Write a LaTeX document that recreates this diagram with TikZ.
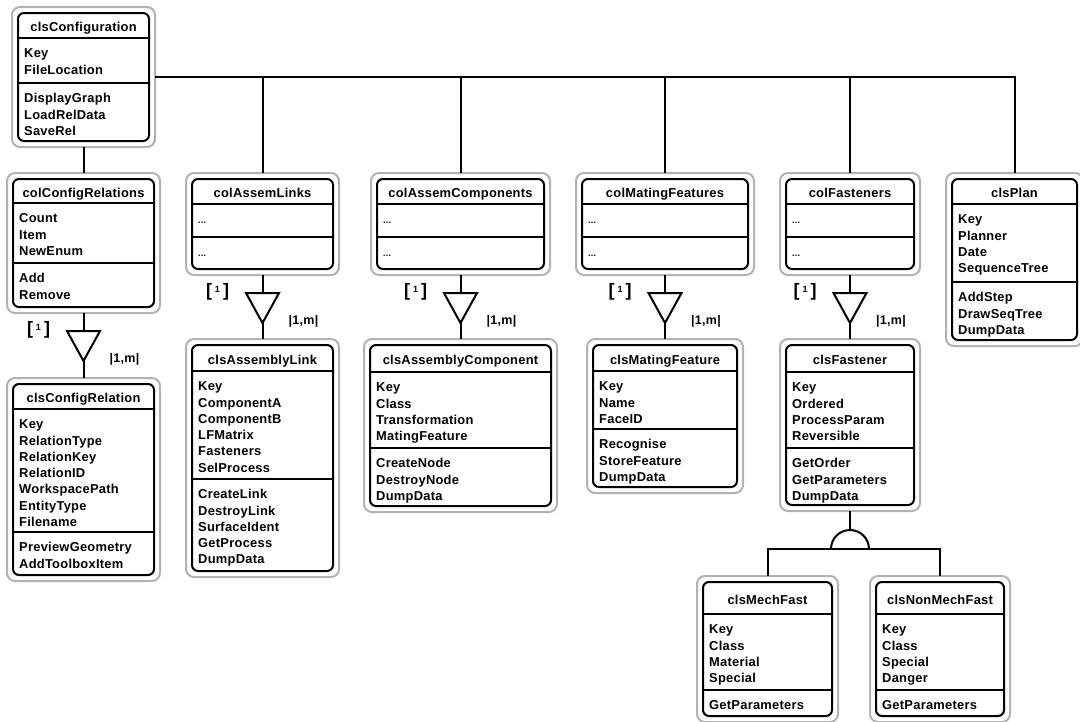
\documentclass[tikz,border=0pt]{standalone}
\usepackage{fontspec}
\setmainfont{Liberation Sans}[LetterSpace=2]
\newcommand\umlf{\fontsize{12.9}{16.3}\selectfont\bfseries}
\newcommand\dotsf{\fontsize{9}{10}\selectfont\bfseries}
\tikzset{
  outerbox/.style={draw=black!30, line width=2pt, rounded corners=8pt, fill=white, inner sep=0pt, outer sep=0pt, anchor=north west},
  innerbox/.style={draw=black, line width=2pt, rounded corners=6pt, inner sep=0pt, outer sep=0pt, anchor=north west},
  sepline/.style={draw=black, line width=1.8pt},
  titletext/.style={font=\umlf, inner sep=0pt, anchor=base},
  listtext/.style={font=\umlf, inner sep=0pt, anchor=north west, align=left},
  conn/.style={draw=black, line width=2pt},
  onelab/.style={font=\fontsize{18}{18}\selectfont\bfseries, inner sep=0pt},
  manylab/.style={font=\fontsize{12.5}{12.5}\selectfont\bfseries, inner sep=0pt},
}
% #1 name #2 L #3 T #4 R #5 B #6 title line #7 separator #8 title #9 attributes, then {methods}
\newcommand\umlclass[9]{%
  \pgfmathsetmacro\uW{#4-#2}\pgfmathsetmacro\uH{#5-#3}%
  \pgfmathsetmacro\uOW{#4-#2+12}\pgfmathsetmacro\uOH{#5-#3+12}%
  \node[outerbox, minimum width=\uOW pt, minimum height=\uOH pt] (#1) at (#2-6,#3-6) {};
  \node[innerbox, minimum width=\uW pt, minimum height=\uH pt] (#1-in) at (#2,#3) {};
  \draw[sepline] (#2,#6) -- (#4,#6);
  \draw[sepline] (#2,#7) -- (#4,#7);
  \node[titletext] (#1-t) at ({(#2+#4)/2},{(#3+#6)/2+6}) {#8};
  \node[listtext] (#1-a) at (#2+6,#6+8.1) {\strut #9};
  \def\uL{#2}\def\uS{#7}\def\uN{#1}%
  \umlmeth}
\newcommand\umlmeth[1]{\node[listtext] (\uN-m) at (\uL+6,\uS+8.1) {\strut #1};}
% aggregation: #1 name #2 parent #3 child #4 x #5 top y
\newcommand\agg[5]{%
  \coordinate (#1-top) at (#4,#5);
  \coordinate (#1-tip) at (#4,#5+30);
  \draw[conn] (#2.south) -- (#1-top);
  \draw[conn] (#1-tip) -- (#3.north);
  \draw[conn, line join=miter] (#1-top) -- ++(-16.5,0) -- (#1-tip) -- (#4+16.5,#5) -- cycle;
  \node[onelab] (#1-one) at (#4-45,#5-1) {[\,\raisebox{4pt}{\fontsize{9}{9}\selectfont 1}\,]};
  \node[manylab] (#1-many) at (#4+41,#5+28) {|1,m|};
}
\begin{document}
\begin{tikzpicture}[x=1pt, y=-1pt]
\fill[white] (0,0) rectangle (1080,721);
\useasboundingbox (0,0) rectangle (1080,721);

\umlclass{cfg}{18}{13}{149}{141}{38}{83}{clsConfiguration}{Key\\FileLocation}{DisplayGraph\\LoadRelData\\SaveRel}
\umlclass{ccr}{13}{179}{154}{307}{203}{263}{colConfigRelations}{Count\\Item\\NewEnum}{Add\\Remove}
\umlclass{cr}{13}{384}{154}{575}{409}{532}{clsConfigRelation}{Key\\RelationType\\RelationKey\\RelationID\\WorkspacePath\\EntityType\\Filename}{PreviewGeometry\\AddToolboxItem}

\umlclass{cal}{192}{179}{333}{269}{204}{237}{colAssemLinks}{\dotsf ...}{\dotsf ...}
\umlclass{al}{192}{345}{333}{571}{371}{479}{clsAssemblyLink}{Key\\ComponentA\\ComponentB\\LFMatrix\\Fasteners\\SelProcess}{CreateLink\\DestroyLink\\SurfaceIdent\\GetProcess\\DumpData}

\umlclass{cac}{377}{179}{544}{269}{204}{237}{colAssemComponents}{\dotsf ...}{\dotsf ...}
\umlclass{ac}{370}{345}{551}{506}{372}{448}{clsAssemblyComponent}{Key\\Class\\Transformation\\MatingFeature}{CreateNode\\DestroyNode\\DumpData}

\umlclass{cmf}{582}{179}{748}{269}{204}{237}{colMatingFeatures}{\dotsf ...}{\dotsf ...}
\umlclass{mf}{593}{345}{737}{487}{371}{429}{clsMatingFeature}{Key\\Name\\FaceID}{Recognise\\StoreFeature\\DumpData}

\umlclass{cf}{786}{179}{914}{269}{204}{237}{colFasteners}{\dotsf ...}{\dotsf ...}
\umlclass{fa}{786}{345}{914}{505}{372}{448}{clsFastener}{Key\\Ordered\\ProcessParam\\Reversible}{GetOrder\\GetParameters\\DumpData}

\umlclass{plan}{952}{179}{1077}{340}{204}{282}{clsPlan}{Key\\Planner\\Date\\SequenceTree}{AddStep\\DrawSeqTree\\DumpData}

\umlclass{mech}{703}{582}{832}{716}{614}{690}{clsMechFast}{Key\\Class\\Material\\Special}{GetParameters}
\umlclass{nmech}{876}{582}{1004}{716}{614}{690}{clsNonMechFast}{Key\\Class\\Special\\Danger}{GetParameters}

% bus from clsConfiguration
\draw[conn] (cfg.east) -- (cfg.east -| plan.north) -- (plan.north);
\draw[conn] (cfg.east -| cal.north) -- (cal.north);
\draw[conn] (cfg.east -| cac.north) -- (cac.north);
\draw[conn] (cfg.east -| cmf.north) -- (cmf.north);
\draw[conn] (cfg.east -| cf.north) -- (cf.north);
\draw[conn] (cfg.south) -- (ccr.north);

% aggregations
\agg{a1}{ccr}{cr}{83.5}{331}
\agg{a2}{cal}{al}{262.5}{293}
\agg{a3}{cac}{ac}{460.5}{293}
\agg{a4}{cmf}{mf}{665}{293}
\agg{a5}{cf}{fa}{850}{293}

% generalization
\coordinate (gen) at (850,549);
\coordinate (gentop) at (850,530);
\draw[conn] (fa.south) -- (gentop);
\draw[conn] (gen) ++(-19,0) arc[start angle=180, end angle=360, radius=19];
\draw[conn] (mech.north) -- (mech.north |- gen) -- (nmech.north |- gen) -- (nmech.north);
\end{tikzpicture}
\end{document}
